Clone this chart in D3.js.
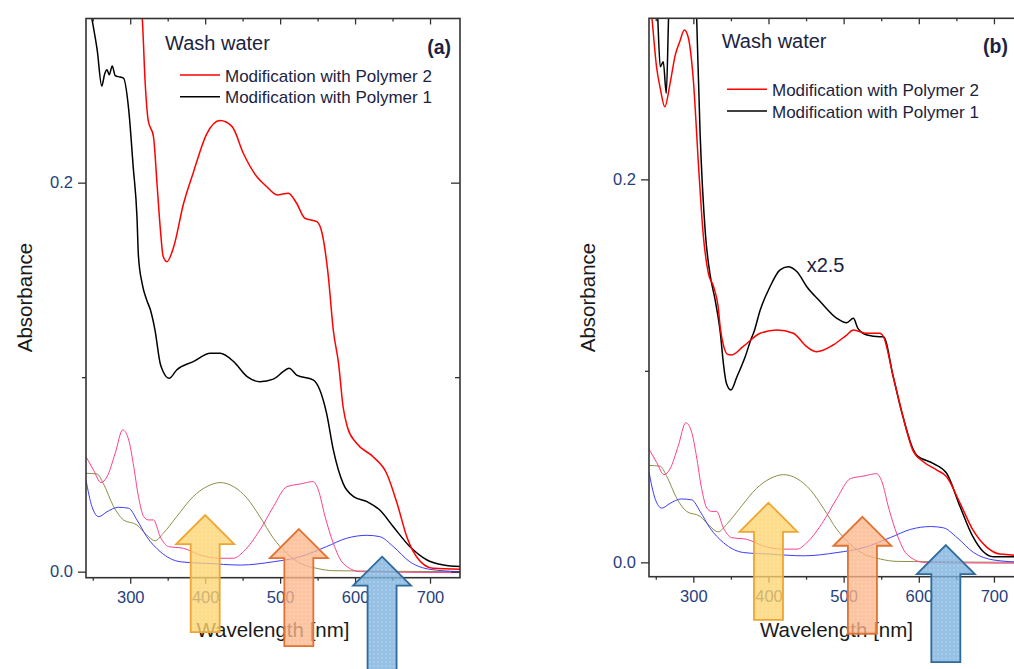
<!DOCTYPE html>
<html>
<head>
<meta charset="utf-8">
<script src="https://cdn.jsdelivr.net/npm/d3@7"></script>
<style>
  body { margin: 0; background: #fff; }
  svg { display: block; font-family: "Liberation Sans", Arial, sans-serif; }
</style>
</head>
<body>
<svg id="chart" width="1014" height="669"></svg>
<script>
// wavelength [nm], absorbance pairs
var polymer2_a = [[241,0.42],[300,0.33],[316,0.285],[320,0.251],[324,0.232],[331,0.2237],[336,0.198],[340,0.177],[344,0.162],[349,0.1594],[358,0.167],[371,0.189],[384,0.205],[402,0.225],[420,0.2319],[436,0.2288],[451,0.215],[469,0.203],[482,0.198],[496,0.1937],[511,0.1946],[522,0.1894],[533,0.1817],[549,0.18],[556,0.174],[564,0.153],[571,0.124],[578,0.107],[584,0.0848],[590,0.074],[602,0.066],[624,0.0591],[642,0.0506],[656,0.0352],[669,0.018],[682,0.0077],[704,0.0017],[740,0.0012]];
var polymer1_a = [[241,0.30],[249,0.284],[256,0.268],[262,0.2497],[266,0.256],[269,0.258],[272,0.2555],[276,0.26],[280,0.255],[284,0.2545],[291,0.2537],[298,0.2374],[304,0.208],[309,0.1825],[311,0.162],[316,0.148],[322,0.1397],[327,0.1345],[333,0.1243],[340,0.107],[344,0.1028],[352,0.0994],[362,0.1037],[384,0.108],[407,0.1123],[420,0.1123],[438,0.108],[456,0.1003],[473,0.0977],[491,0.099],[504,0.1028],[512,0.1046],[522,0.1011],[544,0.0986],[553,0.0934],[562,0.0814],[571,0.0626],[584,0.0454],[598,0.0386],[616,0.036],[633,0.0317],[651,0.0231],[673,0.0129],[696,0.006],[718,0.0034],[740,0.0026]];
var polymer2_b = [[241,0.30],[245,0.284],[251,0.2588],[256,0.2475],[262,0.2379],[269,0.25],[276,0.265],[282,0.272],[288,0.278],[293,0.2745],[300,0.2519],[307,0.2066],[313,0.1718],[320,0.1509],[327,0.1439],[333,0.1335],[336,0.122],[341,0.112],[346,0.1085],[351,0.1083],[366,0.1126],[389,0.1196],[411,0.1213],[433,0.1196],[451,0.1126],[464,0.11],[486,0.1135],[504,0.1187],[513,0.1213],[531,0.1196],[548,0.1196],[553,0.1178],[566,0.0969],[579,0.076],[592,0.0586],[606,0.0525],[624,0.0482],[637,0.0447],[655,0.0308],[672,0.0169],[690,0.0081],[708,0.0043],[740,0.0035]];
var polymer1_b = [[241,0.34],[252,0.29],[256,0.2588],[260,0.2614],[264,0.2449],[267,0.284],[270,0.32],[300,0.34],[304,0.29],[309,0.224],[316,0.1718],[322,0.1509],[329,0.137],[336,0.1196],[340,0.1039],[344,0.0935],[350,0.09],[358,0.0969],[369,0.1074],[378,0.1178],[380,0.1196],[389,0.1318],[402,0.1439],[415,0.1526],[426,0.1544],[438,0.1517],[451,0.1439],[469,0.1361],[491,0.1274],[504,0.1251],[513,0.1274],[519,0.1222],[531,0.1187],[548,0.1178],[553,0.1178],[566,0.0969],[579,0.076],[593,0.0586],[597,0.056],[619,0.0517],[637,0.0465],[655,0.029],[672,0.0134],[686,0.0055],[699,0.0029],[740,0.003]];

// reference dye spectra (same in both panels)
var dye_pink = [[241,0.0591],[251,0.0523],[261,0.0458],[269,0.0488],[280,0.0609],[290,0.0729],[298,0.0677],[304,0.0557],[311,0.0386],[318,0.0283],[324,0.0266],[331,0.0266],[340,0.018],[351,0.0129],[371,0.012],[393,0.0086],[416,0.0069],[438,0.0069],[451,0.0103],[473,0.0214],[491,0.0334],[509,0.0437],[527,0.0451],[544,0.0463],[551,0.042],[560,0.0283],[571,0.0146],[584,0.0043],[607,0.0],[740,-0.0005]];
var dye_olive = [[241,0.0506],[256,0.0502],[264,0.0454],[278,0.0334],[291,0.0266],[309,0.024],[322,0.0189],[333,0.0159],[344,0.0197],[362,0.0283],[384,0.0386],[402,0.0437],[420,0.0458],[438,0.0437],[456,0.0377],[473,0.0283],[491,0.0172],[509,0.0094],[527,0.0043],[549,0.0017],[571,0.0005],[740,0.0]];
var dye_blue = [[241,0.0471],[249,0.0334],[258,0.0283],[269,0.0308],[284,0.0331],[298,0.0326],[309,0.0266],[322,0.018],[340,0.0103],[367,0.0051],[402,0.0043],[447,0.0034],[491,0.0051],[527,0.0077],[562,0.0129],[589,0.0172],[616,0.0187],[633,0.018],[651,0.0129],[673,0.0051],[700,0.0012],[740,0.0]];

var x_major = [300, 400, 500, 600, 700];
var x_minor = [250, 350, 450, 550, 650];
var y_major = [0.0, 0.2];
var y_minor = [0.1];

// arrows: wavelength, tip absorbance per panel
var arrow_wl = [400, 525, 636];
var arrow_tip_a = [0.0291, 0.0219, 0.0077];
var arrow_tip_b = [0.0311, 0.0238, 0.009];

var legend_labels = ["Modification with Polymer 2", "Modification with Polymer 1"];

var svg = d3.select("#chart");
var defs = svg.append("defs");
var arrowStyles = [
    {id: "pat_y", fill: "#fcd26a", stroke: "#eea532"},
    {id: "pat_o", fill: "#fbb386", stroke: "#e07234"},
    {id: "pat_b", fill: "#78b0dd", stroke: "#2e6a9c"}
];
arrowStyles.forEach(function(s) {
    var p = defs.append("pattern")
        .attr("id", s.id)
        .attr("patternUnits", "userSpaceOnUse")
        .attr("width", 4).attr("height", 4);
    p.append("rect").attr("width", 4).attr("height", 4).attr("fill", s.fill);
    p.append("circle").attr("cx", 2).attr("cy", 2).attr("r", 0.8)
        .attr("fill", "#fff").attr("opacity", 0.35);
});

var tickColor = "#26407e";
var textColor = "#1c2340";

function drawPanel(o) {
    var x = d3.scaleLinear().domain([241, 740]).range([o.left, o.right]);
    var y = d3.scaleLinear().domain(o.ydom).range([o.bottom, o.top]);
    var g = svg.append("g");

    var clipId = "clip_" + o.name;
    defs.append("clipPath").attr("id", clipId)
        .append("rect")
        .attr("x", o.left).attr("y", o.top)
        .attr("width", o.right - o.left).attr("height", o.bottom - o.top);

    var line = d3.line().curve(d3.curveMonotoneX).x(d => x(d[0])).y(d => y(d[1]));
    var curves = g.append("g").attr("clip-path", "url(#" + clipId + ")");
    [
        {d: dye_olive, c: "#8e8e48", w: 1},
        {d: dye_blue, c: "#3b3bff", w: 1},
        {d: dye_pink, c: "#ff3f8e", w: 1},
        {d: o.p1, c: "#000000", w: 1.5},
        {d: o.p2, c: "#ff0000", w: 1.5}
    ].forEach(function(s) {
        curves.append("path")
            .attr("d", line(s.d))
            .attr("fill", "none")
            .attr("stroke", s.c)
            .attr("stroke-width", s.w)
            .attr("stroke-linejoin", "round");
    });

    function styleAxis(sel) {
        sel.select(".domain").remove();
        sel.selectAll(".tick line").attr("stroke", "#333").attr("stroke-width", 1.3);
        sel.selectAll(".tick text").attr("fill", tickColor)
            .style("font-size", "16.5px")
            .style("font-family", "'Liberation Sans', Arial, sans-serif");
    }

    // bottom
    g.append("g").attr("transform", `translate(0,${o.bottom})`)
        .call(d3.axisBottom(x).tickValues(x_major).tickSize(6).tickPadding(8).tickFormat(d3.format("d")))
        .call(styleAxis);
    g.append("g").attr("transform", `translate(0,${o.bottom})`)
        .call(d3.axisBottom(x).tickValues(x_minor).tickSize(3).tickFormat(""))
        .call(styleAxis);
    // top (inward)
    g.append("g").attr("transform", `translate(0,${o.top})`)
        .call(d3.axisTop(x).tickValues(x_major).tickSize(-6).tickFormat(""))
        .call(styleAxis);
    g.append("g").attr("transform", `translate(0,${o.top})`)
        .call(d3.axisTop(x).tickValues(x_minor).tickSize(-3).tickFormat(""))
        .call(styleAxis);
    // left
    g.append("g").attr("transform", `translate(${o.left},0)`)
        .call(d3.axisLeft(y).tickValues(y_major).tickSize(8).tickPadding(5).tickFormat(d3.format(".1f")))
        .call(styleAxis);
    g.append("g").attr("transform", `translate(${o.left},0)`)
        .call(d3.axisLeft(y).tickValues(y_minor).tickSize(4).tickFormat(""))
        .call(styleAxis);
    // right (inward)
    g.append("g").attr("transform", `translate(${o.right},0)`)
        .call(d3.axisRight(y).tickValues(y_major).tickSize(-9).tickFormat(""))
        .call(styleAxis);
    g.append("g").attr("transform", `translate(${o.right},0)`)
        .call(d3.axisRight(y).tickValues(y_minor).tickSize(-5).tickFormat(""))
        .call(styleAxis);

    g.append("rect")
        .attr("x", o.left).attr("y", o.top)
        .attr("width", o.right - o.left).attr("height", o.bottom - o.top)
        .attr("fill", "none").attr("stroke", "#333").attr("stroke-width", 1.6);

    // labels
    g.append("text").attr("x", o.washX).attr("y", o.washY)
        .attr("fill", textColor).style("font-size", "20px").text("Wash water");
    g.append("text").attr("x", o.tagX).attr("y", o.tagY)
        .attr("text-anchor", "end").attr("fill", textColor)
        .style("font-size", "19.5px").style("font-weight", "bold").text(o.tag);

    legend_labels.forEach(function(t, i) {
        var ly = o.legY + i * 21.8;
        g.append("line")
            .attr("x1", o.legX).attr("x2", o.legX + 40)
            .attr("y1", ly).attr("y2", ly)
            .attr("stroke", i == 0 ? "#ff0000" : "#000").attr("stroke-width", 1.5);
        g.append("text").attr("x", o.legX + 45).attr("y", ly + 6.5)
            .attr("fill", textColor).style("font-size", "17px").text(t);
    });

    g.append("text")
        .attr("x", (o.left + o.right) / 2).attr("y", 637)
        .attr("text-anchor", "middle").attr("fill", "#1a1a1a")
        .style("font-size", "20.5px").text("Wavelength [nm]");
    g.append("text")
        .attr("transform", `translate(${o.left - 54},297.5) rotate(-90)`)
        .attr("text-anchor", "middle").attr("fill", "#1a1a1a")
        .style("font-size", "20.5px").text("Absorbance");

    if (o.extra) {
        g.append("text").attr("x", o.extra.x).attr("y", o.extra.y)
            .attr("fill", textColor).style("font-size", "20px").text(o.extra.t);
    }

    // arrows
    var hw = 29, hh = 29, sw = 14.5, len = 117;
    arrow_wl.forEach(function(wl, i) {
        var tx = x(wl), ty = y(o.tips[i]);
        var pts = [[tx, ty], [tx + hw, ty + hh], [tx + sw, ty + hh], [tx + sw, ty + len],
                   [tx - sw, ty + len], [tx - sw, ty + hh], [tx - hw, ty + hh]];
        g.append("path")
            .attr("d", "M" + pts.join("L") + "Z")
            .attr("fill", "url(#" + arrowStyles[i].id + ")")
            .attr("fill-opacity", 0.78)
            .attr("stroke", arrowStyles[i].stroke)
            .attr("stroke-width", 1.8)
            .attr("stroke-linejoin", "miter");
    });
}

drawPanel({
    name: "a", left: 86, right: 460, top: 18.5, bottom: 577.7,
    ydom: [-0.0031, 0.2844],
    p1: polymer1_a, p2: polymer2_a, tips: arrow_tip_a,
    washX: 165, washY: 50, tag: "(a)", tagX: 451, tagY: 54,
    legX: 180, legY: 75
});

drawPanel({
    name: "b", left: 649, right: 1024, top: 18.3, bottom: 576.7,
    ydom: [-0.0075, 0.2841],
    p1: polymer1_b, p2: polymer2_b, tips: arrow_tip_b,
    washX: 721.7, washY: 48.3, tag: "(b)", tagX: 1008, tagY: 53,
    legX: 727, legY: 89.3,
    extra: {x: 806.7, y: 271.7, t: "x2.5"}
});
</script>
</body>
</html>
